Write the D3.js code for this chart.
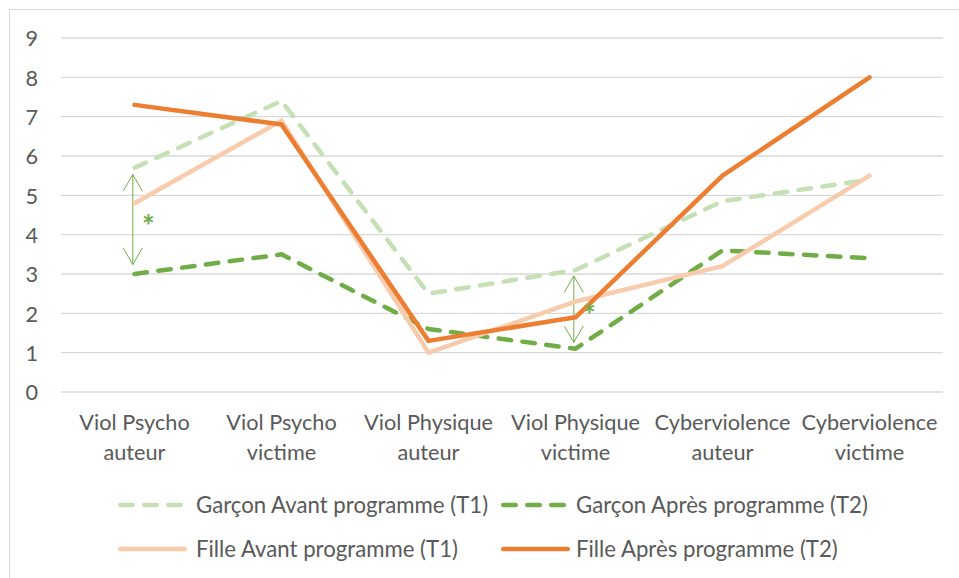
<!DOCTYPE html>
<html>
<head>
<meta charset="utf-8">
<script src="https://cdn.jsdelivr.net/npm/d3@7.9.0/dist/d3.min.js"></script>
<style>
  body { margin: 0; background: #fff; }
  svg { display: block; font-family: Lato, "Open Sans", sans-serif; }
</style>
</head>
<body>
<svg id="chart" width="959" height="578"></svg>
<script>
// categories (two-line labels)
const categories = [
  ['Viol Psycho', 'auteur'],
  ['Viol Psycho', 'victime'],
  ['Viol Physique', 'auteur'],
  ['Viol Physique', 'victime'],
  ['Cyberviolence', 'auteur'],
  ['Cyberviolence', 'victime'],
];

// series values
const garconT1 = [5.7, 7.4, 2.5, 3.1, 4.85, 5.4];
const garconT2 = [3.0, 3.5, 1.6, 1.1, 3.6, 3.4];
const filleT1 = [4.8, 6.9, 1.0, 2.3, 3.2, 5.5];
const filleT2 = [7.3, 6.8, 1.3, 1.9, 5.5, 8.0];

const seriesNames = [
  'Garçon Avant programme (T1)',
  'Garçon Après programme (T2)',
  'Fille Avant programme (T1)',
  'Fille Après programme (T2)',
];

const yTicks = [0, 1, 2, 3, 4, 5, 6, 7, 8, 9];

// significance arrows: category index, from value, to value
const sigArrows = [
  { cat: 0, from: 5.53, to: 3.24 },
  { cat: 3, from: 2.95, to: 1.26 },
];

const series = [
  { name: seriesNames[0], values: garconT1, color: '#C5E0B4', dash: '12.5,11.5' },
  { name: seriesNames[1], values: garconT2, color: '#70AD47', dash: '12.5,11.5' },
  { name: seriesNames[2], values: filleT1, color: '#F8CBAD', dash: null },
  { name: seriesNames[3], values: filleT2, color: '#ED7D31', dash: null },
];

const svg = d3.select('#chart');
const margin = { left: 61, right: 16, top: 38, bottom: 186 };
const W = 959, H = 578;
const fontSize = '21.7px';

// outer chart border
svg.append('rect')
  .attr('x', 9.5).attr('y', 9.5)
  .attr('width', 960).attr('height', 580)
  .attr('fill', 'none')
  .attr('stroke', '#D9D9D9')
  .attr('stroke-width', 1);

const x = d3.scaleBand()
  .domain(d3.range(categories.length))
  .range([margin.left, W - margin.right]);

const y = d3.scaleLinear()
  .domain([0, 9])
  .range([H - margin.bottom, margin.top]);

// gridlines
svg.append('g')
  .selectAll('line')
  .data(yTicks)
  .join('line')
  .attr('x1', margin.left).attr('x2', W - margin.right)
  .attr('y1', d => y(d)).attr('y2', d => y(d))
  .attr('stroke', '#D9D9D9')
  .attr('stroke-width', 1.3);

// y axis labels
const yAxis = svg.append('g')
  .attr('transform', `translate(${margin.left},0)`)
  .call(d3.axisLeft(y).tickValues(yTicks).tickSize(0).tickPadding(23));
yAxis.select('.domain').remove();
yAxis.selectAll('text')
  .attr('fill', '#595959')
  .attr('dy', '0.36em')
  .style('font-size', fontSize)
  .style('font-family', 'Lato, sans-serif');

// category labels
const xLabels = svg.append('g');
categories.forEach((c, i) => {
  const cx = x(i) + x.bandwidth() / 2;
  const t = xLabels.append('text')
    .attr('text-anchor', 'middle')
    .attr('fill', '#595959')
    .style('font-size', fontSize)
    .attr('y', 430);
  t.append('tspan').attr('x', cx).text(c[0]);
  t.append('tspan').attr('x', cx).attr('dy', 30).text(c[1]);
});

const line = d3.line()
  .x((d, i) => x(i) + x.bandwidth() / 2)
  .y(d => y(d));

// significance arrows (drawn under the lines)
const arrowG = svg.append('g');
sigArrows.forEach(a => {
  const cx = x(a.cat) + x.bandwidth() / 2 - 1.7;
  const y1 = y(a.from), y2 = y(a.to);
  arrowG.append('line')
    .attr('x1', cx).attr('x2', cx)
    .attr('y1', y1).attr('y2', y2)
    .attr('stroke', '#70AD47').attr('stroke-width', 1);
  arrowG.append('path')
    .attr('d', `M${cx - 9.5},${y1 + 16.5}L${cx},${y1}L${cx + 9.5},${y1 + 16.5}`)
    .attr('fill', 'none').attr('stroke', '#70AD47').attr('stroke-width', 1);
  arrowG.append('path')
    .attr('d', `M${cx - 9.5},${y2 - 16.5}L${cx},${y2}L${cx + 9.5},${y2 - 16.5}`)
    .attr('fill', 'none').attr('stroke', '#70AD47').attr('stroke-width', 1);
});

// series lines
svg.append('g')
  .selectAll('path')
  .data(series)
  .join('path')
  .attr('d', d => line(d.values))
  .attr('fill', 'none')
  .attr('stroke', d => d.color)
  .attr('stroke-width', 4.5)
  .attr('stroke-linejoin', 'round')
  .attr('stroke-linecap', 'round')
  .attr('stroke-dasharray', d => d.dash);

// asterisks next to the arrows
sigArrows.forEach(a => {
  const cx = x(a.cat) + x.bandwidth() / 2;
  svg.append('text')
    .attr('x', cx + 14)
    .attr('y', (y(a.from) + y(a.to)) / 2 + 17)
    .attr('text-anchor', 'middle')
    .attr('fill', '#70AD47')
    .style('font-size', '30px')
    .style('font-weight', 'bold')
    .text('*');
});

// legend
const legendPos = [
  { lx: 120.25, tx: 196, ly: 505, len: 61.5 },
  { lx: 503.25, tx: 576, ly: 505, len: 61.5 },
  { lx: 120.25, tx: 196, ly: 549, len: 64.5 },
  { lx: 503.25, tx: 576, ly: 549, len: 64.5 },
];
const legend = svg.append('g');
series.forEach((s, i) => {
  const p = legendPos[i];
  legend.append('line')
    .attr('x1', p.lx).attr('x2', p.lx + p.len)
    .attr('y1', p.ly).attr('y2', p.ly)
    .attr('stroke', s.color)
    .attr('stroke-width', 4.5)
    .attr('stroke-linecap', 'round')
    .attr('stroke-dasharray', s.dash);
  legend.append('text')
    .attr('x', p.tx).attr('y', p.ly + 8)
    .attr('fill', '#595959')
    .style('font-size', '22.2px')
    .text(s.name);
});
</script>
</body>
</html>
